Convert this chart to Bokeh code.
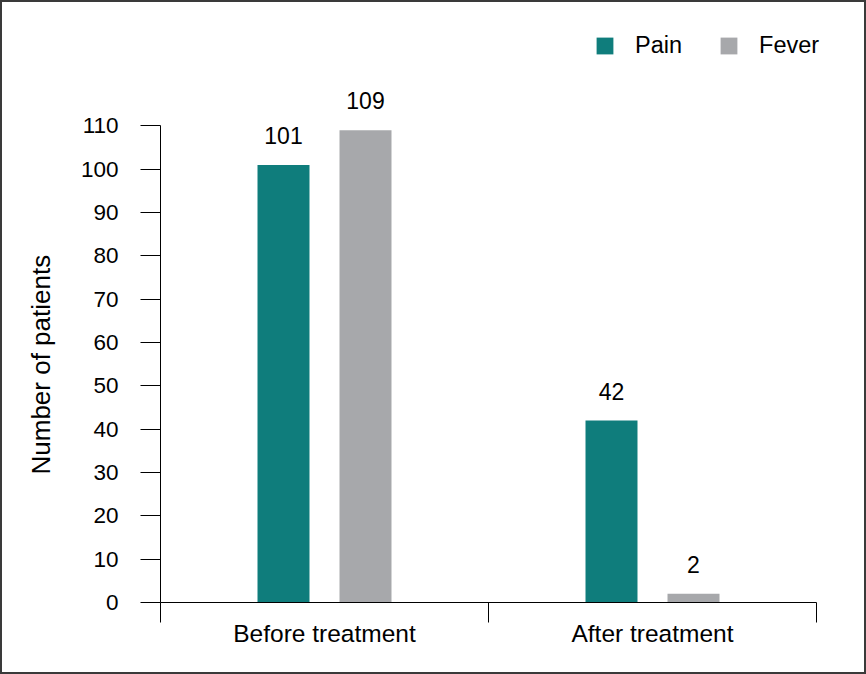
from bokeh.plotting import figure
from bokeh.models import (ColumnDataSource, Range1d, LinearAxis, FixedTicker,
                          Legend, LegendItem, LabelSet, Title)
from bokeh.core.properties import value
from bokeh.transform import dodge
from bokeh.embed import file_html
from bokeh.resources import INLINE

categories = ["Before treatment", "After treatment"]
pain = [101, 42]
fever = [109, 2]
series_names = ["Pain", "Fever"]
y_ticks = list(range(0, 111, 10))
y_title = "Number of patients"

PAIN_COLOR = "#0f7d7c"
FEVER_COLOR = "#a7a8ab"
FONT = "Liberation Sans"

n = len(categories)
centres = [i + 0.5 for i in range(n)]

src = ColumnDataSource(dict(cat=categories, xc=centres, pain=pain, fever=fever,
                            pain_lbl=[str(v) for v in pain],
                            fever_lbl=[str(v) for v in fever]))

# frame: 682 px wide, of which the first 656 px hold the categories
x_end = n * 682 / 656
p = figure(width=866, height=674, output_backend="svg", toolbar_location=None,
           x_range=Range1d(0, x_end), y_range=Range1d(0, 137.56),
           x_axis_type=None, y_axis_type=None,
           min_border_left=158, min_border_right=26, min_border_top=4, min_border_bottom=74,
           background_fill_color="white", border_fill_color="white",
           styles={"border": "2px solid #3a3a3a", "box-sizing": "border-box"})
p.outline_line_color = None
p.xgrid.visible = False
p.ygrid.visible = False

bw = 0.1585
off = 0.125
r_pain = p.vbar(x=dodge("xc", -off), top="pain", width=bw, source=src,
                fill_color=PAIN_COLOR, line_color=None)
r_fever = p.vbar(x=dodge("xc", off), top="fever", width=bw, source=src,
                 fill_color=FEVER_COLOR, line_color=None)

for col, lbl, o in (("pain", "pain_lbl", -off), ("fever", "fever_lbl", off)):
    ls = LabelSet(x=dodge("xc", o), y=col, text=lbl, source=src,
                  text_align="center", text_baseline="alphabetic", y_offset=21,
                  text_font=value(FONT), text_font_size=value("23px"), text_color="#000000")
    p.add_layout(ls)

# y axis (drawn only from 0 to 110)
yax = LinearAxis(ticker=FixedTicker(ticks=y_ticks), bounds=(0, 110))
yax.major_tick_out = 20
yax.major_tick_in = 0
yax.minor_tick_line_color = None
yax.axis_line_color = "#000000"
yax.major_tick_line_color = "#000000"
yax.major_label_text_font = FONT
yax.major_label_text_font_size = "22.5px"
yax.major_label_text_color = "#000000"
yax.major_label_standoff = 22
p.add_layout(yax, "left")

# y title, centred on the 0..110 span of the axis
yt = Title(text=y_title, align="left", offset=128, vertical_align="middle", standoff=42,
           text_font=FONT, text_font_size="26px", text_font_style="normal",
           text_color="#000000")
p.add_layout(yt, "left")

# x axis: separators as minor ticks, category names centred
xax = LinearAxis(ticker=FixedTicker(ticks=centres, minor_ticks=list(range(n + 1))),
                 bounds=(0, n))
xax.major_label_overrides = {c: name for c, name in zip(centres, categories)}
xax.major_tick_out = 0
xax.major_tick_in = 0
xax.major_tick_line_color = None
xax.minor_tick_out = 20
xax.minor_tick_in = 0
xax.minor_tick_line_color = "#000000"
xax.axis_line_color = "#000000"
xax.major_label_text_font = FONT
xax.major_label_text_font_size = "24.5px"
xax.major_label_text_color = "#000000"
xax.major_label_standoff = -3
p.add_layout(xax, "below")

legend = Legend(items=[LegendItem(label=series_names[0], renderers=[r_pain]),
                       LegendItem(label=series_names[1], renderers=[r_fever])],
                orientation="horizontal", location=(434, 543))
legend.glyph_width = 21
legend.glyph_height = 21
legend.label_standoff = 20
legend.spacing = 36
legend.padding = 0
legend.margin = 0
legend.border_line_color = None
legend.background_fill_alpha = 0
legend.label_text_font = FONT
legend.label_text_font_size = "23.5px"
legend.label_text_color = "#000000"
legend.label_height = 21
p.add_layout(legend, "center")

open("out.html", "w").write(file_html(p, INLINE))
